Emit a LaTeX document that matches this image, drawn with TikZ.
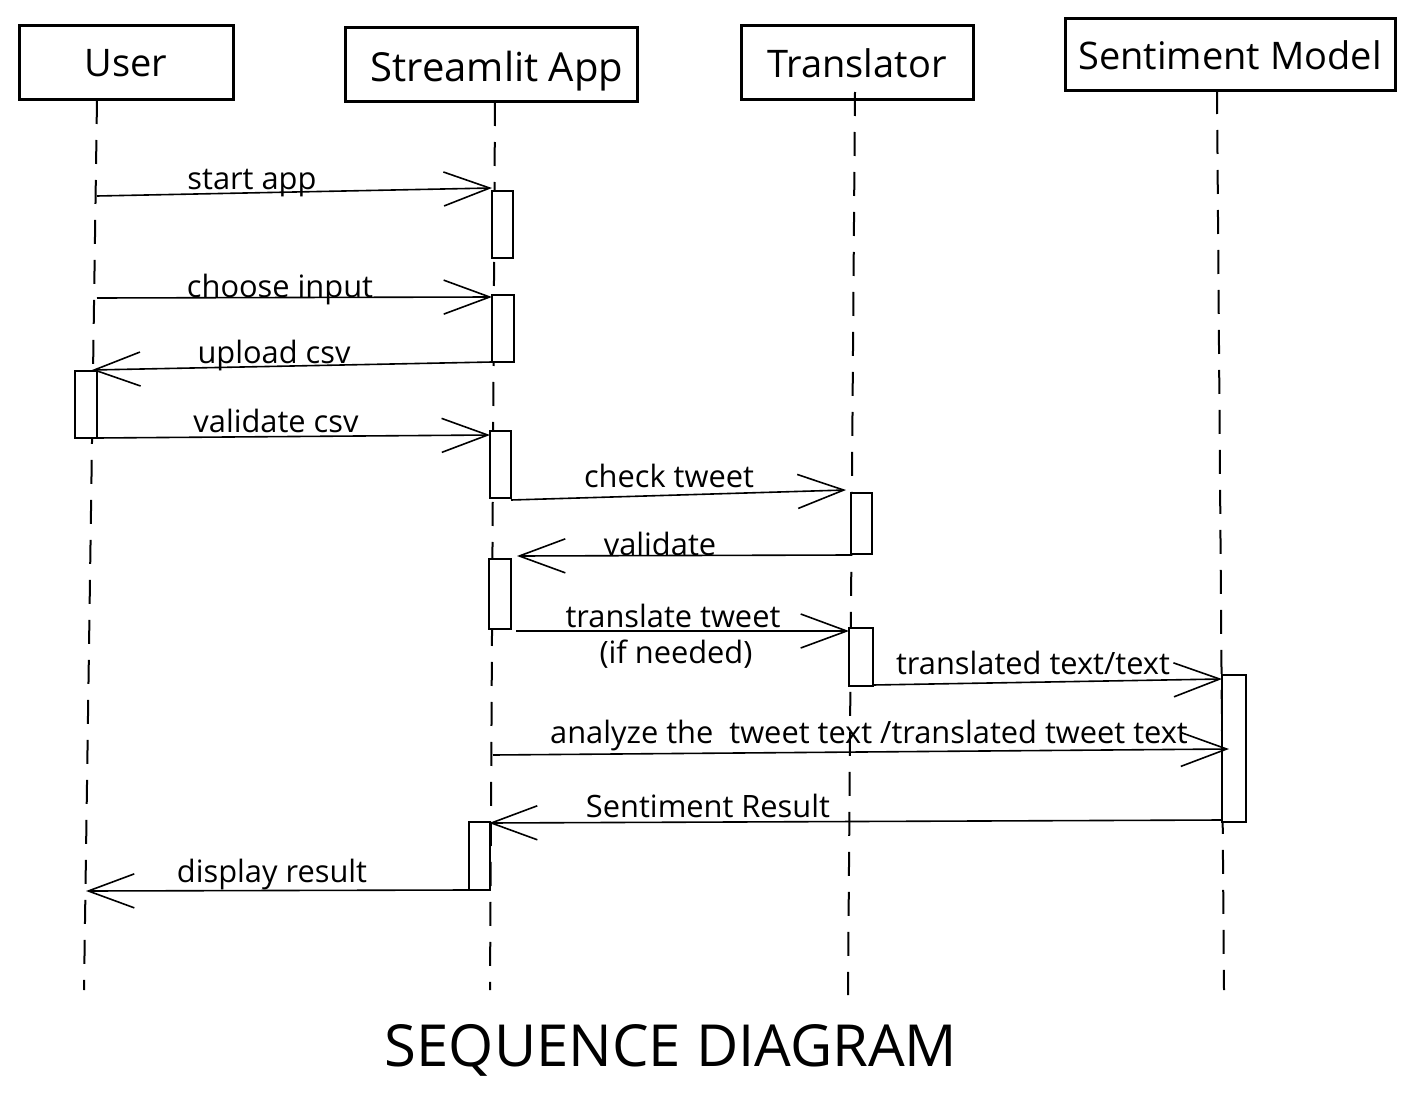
\documentclass[tikz,border=0pt]{standalone}
\usepackage{fontspec}
\setmainfont{Open Sans}
\usetikzlibrary{arrows.meta}
\begin{document}
\begin{tikzpicture}[x=0.5pt,y=-0.5pt,
 hdr/.style={draw, line width=1.5pt, inner sep=0pt, font=\fontsize{19}{23}\selectfont},
 hdrtxt/.style={anchor=base, inner sep=0pt, font=\fontsize{19}{23}\selectfont},
 act/.style={draw, line width=0.75pt, fill=white, inner sep=0pt},
 life/.style={line width=1pt, dash pattern=on 12pt off 8pt},
 msg/.style={line width=0.8pt, -{Straight Barb[length=23pt,width=17pt,line width=0.8pt]}},
 lbl/.style={anchor=base, inner sep=0pt, font=\fontsize{15.4}{18}\selectfont},
]
\useasboundingbox (0,0) rectangle (1414,1102);
% headers
\node[hdr, minimum width=107pt, minimum height=37pt] (user) at (126,63) {User};
\node[hdr, minimum width=146pt, minimum height=37pt] (app) at (491,65) {};
\node[hdrtxt, font=\fontsize{20}{24}\selectfont] (apptxt) at (497,82) {Streamlit App};
\node[hdr, minimum width=116pt, minimum height=37pt] (trans) at (857,63) {Translator};
\node[hdr, minimum width=165pt, minimum height=36pt] (model) at (1230,55) {Sentiment Model};
% lifelines
\coordinate (uTop) at (97,100);  \coordinate (uBot) at (84,990);
\coordinate (aTop) at (495,102); \coordinate (aBot) at (490,990);
\coordinate (tTop) at (855,92);  \coordinate (tBot) at (848,995);
\coordinate (mTop) at (1217,90); \coordinate (mBot) at (1224,990);
\draw[life] (uTop) -- (uBot);
\draw[life] (aTop) -- (aBot);
\draw[life] (tTop) -- (tBot);
\draw[life] (mTop) -- (mBot);
% activation boxes
\node[act, minimum width=10.5pt, minimum height=33.5pt] (s1) at (502.5,224.5) {};
\node[act, minimum width=11pt, minimum height=33.5pt] (s2) at (503,328.5) {};
\node[act, minimum width=11pt, minimum height=33.5pt] (u1) at (86,404.5) {};
\node[act, minimum width=10.5pt, minimum height=33.5pt] (s3) at (500.5,464.5) {};
\node[act, minimum width=10.5pt, minimum height=30.5pt] (t1) at (861.5,523.5) {};
\node[act, minimum width=11pt, minimum height=35pt] (s4) at (500,594) {};
\node[act, minimum width=12pt, minimum height=29pt] (t2) at (861,657) {};
\node[act, minimum width=12pt, minimum height=73.5pt] (m1) at (1234,748.5) {};
\node[act, minimum width=10.5pt, minimum height=34pt] (s5) at (479.5,856) {};
% message end points
\coordinate (m1a) at (97,196);   \coordinate (m1b) at (492,188);
\coordinate (m2a) at (97,298);   \coordinate (m2b) at (492,297);
\coordinate (m3a) at (492,362);  \coordinate (m3b) at (92,370);
\coordinate (m4a) at (97,438);   \coordinate (m4b) at (490,435);
\coordinate (m5a) at (511,500);  \coordinate (m5b) at (846,490);
\coordinate (m6a) at (851,555);  \coordinate (m6b) at (517,556);
\coordinate (m7a) at (516,631);  \coordinate (m7b) at (849,631);
\coordinate (m8a) at (873,685);  \coordinate (m8b) at (1222,679);
\coordinate (m9a) at (493,755);  \coordinate (m9b) at (1229,749);
\coordinate (m10a) at (1222,820); \coordinate (m10b) at (489,823);
\coordinate (m11a) at (469,890); \coordinate (m11b) at (86,891);
\foreach \i in {1,...,11} \draw[msg] (m\i a) -- (m\i b);
% labels
\node[lbl] (l1) at (252,190) {start app};
\node[lbl] (l2) at (280,297) {choose input};
\node[lbl] (l3) at (274,363) {upload csv};
\node[lbl] (l4) at (276,432) {validate csv};
\node[lbl] (l5) at (669,487) {check tweet};
\node[lbl] (l6) at (660,555) {validate};
\node[lbl] (l7) at (673,627) {translate tweet};
\node[lbl] (l7b) at (676,663) {(if needed)};
\node[lbl] (l8) at (1033,674) {translated text/text};
\node[lbl] (l9) at (869,743) {analyze the \ tweet text /translated tweet text};
\node[lbl] (l10) at (708,817) {Sentiment Result};
\node[lbl] (l11) at (272,882) {display result};
\node[anchor=base, inner sep=0pt, font=\fontsize{29}{34}\selectfont] (title) at (671,1066) {SEQUENCE DIAGRAM};
\end{tikzpicture}
\end{document}
